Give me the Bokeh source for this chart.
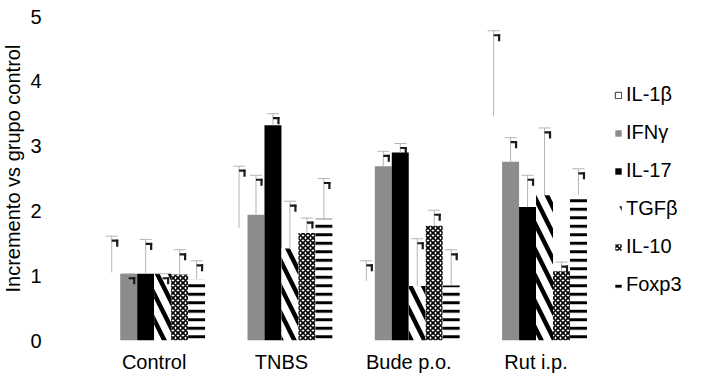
from bokeh.plotting import figure
from bokeh.models import Range1d, FixedTicker, Legend, LegendItem, Title
from bokeh.embed import file_html
from bokeh.resources import INLINE

# ---- data ----
categories = ["Control", "TNBS", "Bude p.o.", "Rut i.p."]
series = ["IL-1β", "IFNγ", "IL-17", "TGFβ", "IL-10", "Foxp3"]

il1b = [1.05, 1.74, 0.92, 3.46]
ifng = [1.03, 1.94, 2.69, 2.76]
il17 = [1.03, 3.32, 2.90, 2.06]
tgfb = [1.03, 1.42, 0.84, 2.24]
il10 = [1.02, 1.66, 1.77, 1.07]
foxp3 = [0.95, 1.88, 0.85, 2.25]

il1b_err = [0.56, 0.95, 0.31, 1.32]
ifng_err = [0.00, 0.61, 0.23, 0.37]
il17_err = [0.53, 0.18, 0.14, 0.49]
tgfb_err = [0.00, 0.73, 0.73, 1.04]
il10_err = [0.38, 0.23, 0.24, 0.14]
foxp3_err = [0.28, 0.62, 0.55, 0.40]

y_ticks = [0, 1, 2, 3, 4, 5]
y_title = "Incremento vs grupo control"

values = [il1b, ifng, il17, tgfb, il10, foxp3]
errors = [il1b_err, ifng_err, il17_err, tgfb_err, il10_err, foxp3_err]

# ---- layout ----
FRAME_W, FRAME_H = 613, 324
CAT_PX = 127.3
X0 = -0.5
X1 = X0 + FRAME_W / CAT_PX
Y0, Y1 = 0, 5
dx = (X1 - X0) / FRAME_W   # data units per pixel
dy = (Y1 - Y0) / FRAME_H

GROUP = 0.8
W = GROUP / len(series)

FONT = "Liberation Sans"
FS = "20px"
GRAY = "#8C8C8C"
ERR = "#B5B5B5"

styles = [
    dict(fill_color="white", line_color=None),
    dict(fill_color=GRAY, line_color=None),
    dict(fill_color="black", line_color=None),
    dict(fill_color="white", line_color=None, hatch_pattern="left_diagonal_line",
         hatch_color="black", hatch_weight=4.5, hatch_scale=26),
    dict(fill_color="white", line_color=None, hatch_pattern="diagonal_cross",
         hatch_color="black", hatch_weight=1.6, hatch_scale=5),
    dict(fill_color="white", line_color=None, hatch_pattern="horizontal_line",
         hatch_color="black", hatch_weight=3, hatch_scale=8.5),
]

p = figure(frame_width=FRAME_W, frame_height=FRAME_H,
           x_range=Range1d(X0, X1), y_range=Range1d(Y0, Y1),
           output_backend="svg", toolbar_location=None,
           min_border_left=90, min_border_right=0,
           min_border_top=16, min_border_bottom=27)

renderers = []
for j, (name, vals, errs, st) in enumerate(zip(series, values, errors, styles)):
    xs = [i + (j - (len(series) - 1) / 2) * W for i in range(len(categories))]
    tops = [v + e for v, e in zip(vals, errs)]
    r = p.vbar(x=xs, top=vals, width=W, **st)
    renderers.append(r)
    # error bars (upper only)
    p.segment(x0=xs, y0=vals, x1=xs, y1=tops, line_color=ERR, line_width=1)
    p.scatter(x=xs, y=tops, marker="dash", size=12, line_color=ERR, line_width=1)
    # small dark corner marks next to each error cap
    p.segment(x0=[x + 0 * dx for x in xs], y0=[t - 4.5 * dy for t in tops],
              x1=[x + 6.5 * dx for x in xs], y1=[t - 4.5 * dy for t in tops],
              line_color="#1A1A1A", line_width=2.2)
    p.segment(x0=[x + 5.5 * dx for x in xs], y0=[t - 3.5 * dy for t in tops],
              x1=[x + 5.5 * dx for x in xs], y1=[t - 10.5 * dy for t in tops],
              line_color="#1A1A1A", line_width=2.2)

# legend-only glyph for the white series (outlined); NaN data draws nothing in the plot
leg_il1b = p.vbar(x=[float("nan")], top=[float("nan")], width=W,
                  fill_color="white", line_color="#333333", line_width=1)
leg_renderers = [leg_il1b] + renderers[1:]

legend = Legend(items=[LegendItem(label=s, renderers=[r]) for s, r in zip(series, leg_renderers)],
                location=(524, 44), orientation="vertical",
                glyph_width=8, glyph_height=8, label_standoff=4,
                spacing=15, padding=0, margin=0, label_height=22,
                border_line_color=None, background_fill_alpha=0,
                label_text_font=FONT, label_text_font_size=FS,
                label_text_color="black")
p.add_layout(legend)

# axes
p.xaxis.ticker = FixedTicker(ticks=list(range(len(categories))))
p.xaxis.major_label_overrides = {i: c for i, c in enumerate(categories)}
p.yaxis.ticker = FixedTicker(ticks=y_ticks)
for ax in (p.xaxis, p.yaxis):
    ax.axis_line_color = None
    ax.major_tick_line_color = None
    ax.minor_tick_line_color = None
    ax.major_label_text_font = FONT
    ax.major_label_text_font_size = FS
    ax.major_label_text_color = "black"
p.xaxis.major_label_standoff = 4
p.yaxis.major_label_standoff = 43

# y-axis title in the left panel, shifted along the axis like the reference
p.add_layout(Title(text=y_title, align="left", offset=48, standoff=3,
                   vertical_align="top",
                   text_font=FONT, text_font_size=FS, text_font_style="normal",
                   text_color="black"), "left")

p.xgrid.visible = False
p.ygrid.visible = False
p.outline_line_color = None
p.background_fill_color = "white"
p.border_fill_color = "white"

open("out.html", "w").write(file_html(p, INLINE))
